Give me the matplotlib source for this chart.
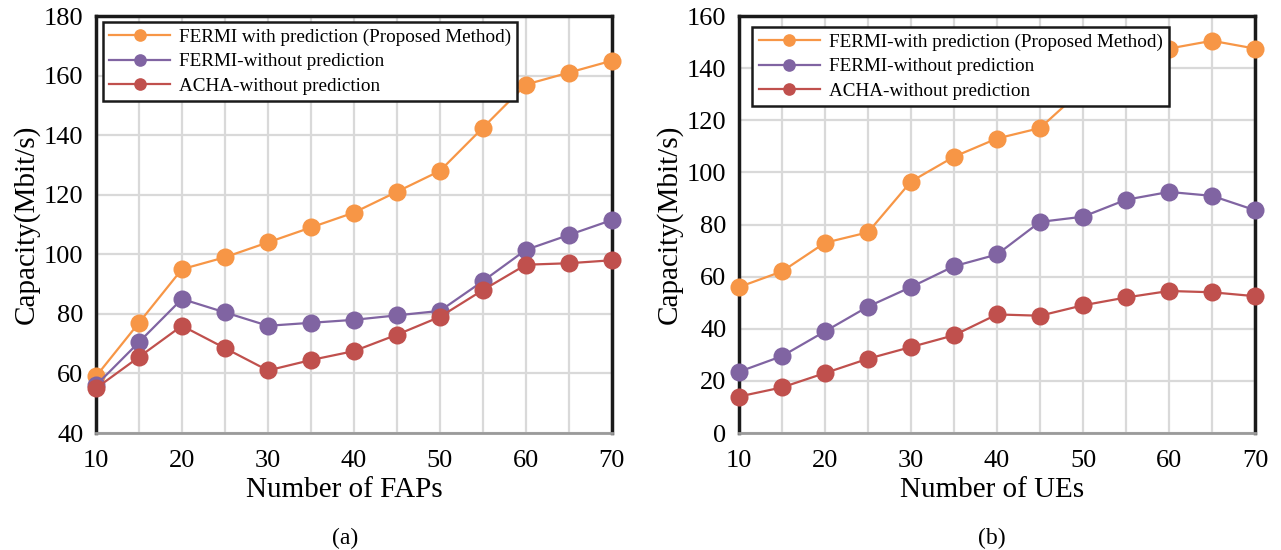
"""Capacity vs number of FAPs / UEs, two panels."""

import matplotlib.pyplot as plt
import numpy as np

plt.rcParams['font.family'] = ['Liberation Serif', 'DejaVu Serif']

# Data
x_vals = [10, 15, 20, 25, 30, 35, 40, 45, 50, 55, 60, 65, 70]

labels_a = ['FERMI with prediction (Proposed Method)', 'FERMI-without prediction', 'ACHA-without prediction']
labels_b = ['FERMI-with prediction (Proposed Method)', 'FERMI-without prediction', 'ACHA-without prediction']

fermi_pred_a = [59, 77, 95, 99, 104, 109, 114, 121, 128, 142.5, 157, 161, 165]
fermi_nopred_a = [56, 70.5, 85, 80.5, 76, 77, 78, 79.5, 81, 91, 101.5, 106.5, 111.5]
acha_a = [55, 65.5, 76, 68.5, 61, 64.5, 67.5, 73, 79, 88, 96.5, 97, 98]

fermi_pred_b = [56, 62, 73, 77, 96.5, 106, 113, 117, 132, 142, 147.5, 150.5, 147.5]
fermi_nopred_b = [23.5, 29.5, 39, 48.5, 56, 64, 68.5, 81, 83, 89.5, 92.5, 91, 85.5]
acha_b = [14, 17.5, 23, 28.5, 33, 37.5, 45.5, 45, 49, 52, 54.5, 54, 52.5]

colors = ['#F79646', '#8064A2', '#C0504D']

fig = plt.figure(figsize=(12.81, 5.5), dpi=100)
ax_a = fig.add_axes([0.0749, 0.2127, 0.4028, 0.7582])
ax_b = fig.add_axes([0.5769, 0.2127, 0.4028, 0.7582])


def draw_panel(ax, series, labels, ylim, xlabel, caption, label_x, leg_anchor):
    for ys, lab, c in zip(series, labels, colors):
        ax.plot(x_vals, ys, color=c, linewidth=1.6, marker='o', markersize=13,
                markeredgewidth=0, label=lab, zorder=3, clip_on=False)
    ax.set_xlim(10, 70)
    ax.set_ylim(*ylim)
    ax.set_xticks(np.arange(10, 71, 10))
    ax.set_xticks(np.arange(10, 71, 5), minor=True)
    ax.set_yticks(np.arange(ylim[0], ylim[1] + 1, 20))
    ax.grid(True, which='both', color='#D9D9D9', linewidth=1.6, zorder=0)
    ax.tick_params(which='both', length=0, labelsize=19)
    ax.tick_params(axis='x', pad=12)
    ax.tick_params(axis='y', pad=9)
    for side in ['left', 'top', 'right']:
        ax.spines[side].set_linewidth(2.5)
        ax.spines[side].set_color('#1a1a1a')
    ax.spines['bottom'].set_linewidth(2)
    ax.spines['bottom'].set_color('#9A9A9A')
    ax.set_ylabel('Capacity(Mbit/s)', fontsize=21, labelpad=3)
    ax.set_xlabel(xlabel, fontsize=21)
    ax.xaxis.set_label_coords(label_x, -0.106)
    ax.text(label_x, -0.252, caption, transform=ax.transAxes, ha='center', va='center', fontsize=17)
    leg = ax.legend(loc='upper left', fontsize=13.8, frameon=True, fancybox=False,
                    edgecolor='#1a1a1a', framealpha=1, borderpad=0.33, labelspacing=0.36,
                    handlelength=3.2, handletextpad=0.45, markerscale=0.7,
                    borderaxespad=0, bbox_to_anchor=leg_anchor)
    leg.get_frame().set_linewidth(1.8)
    leg.set_zorder(5)


draw_panel(ax_a, [fermi_pred_a, fermi_nopred_a, acha_a], labels_a, (40, 180),
           'Number of FAPs', '(a)', 0.482, (0.013, 0.985))
draw_panel(ax_b, [fermi_pred_b, fermi_nopred_b, acha_b], labels_b, (0, 160),
           'Number of UEs', '(b)', 0.49, (0.026, 0.973))

plt.savefig('out.png', dpi=100)
